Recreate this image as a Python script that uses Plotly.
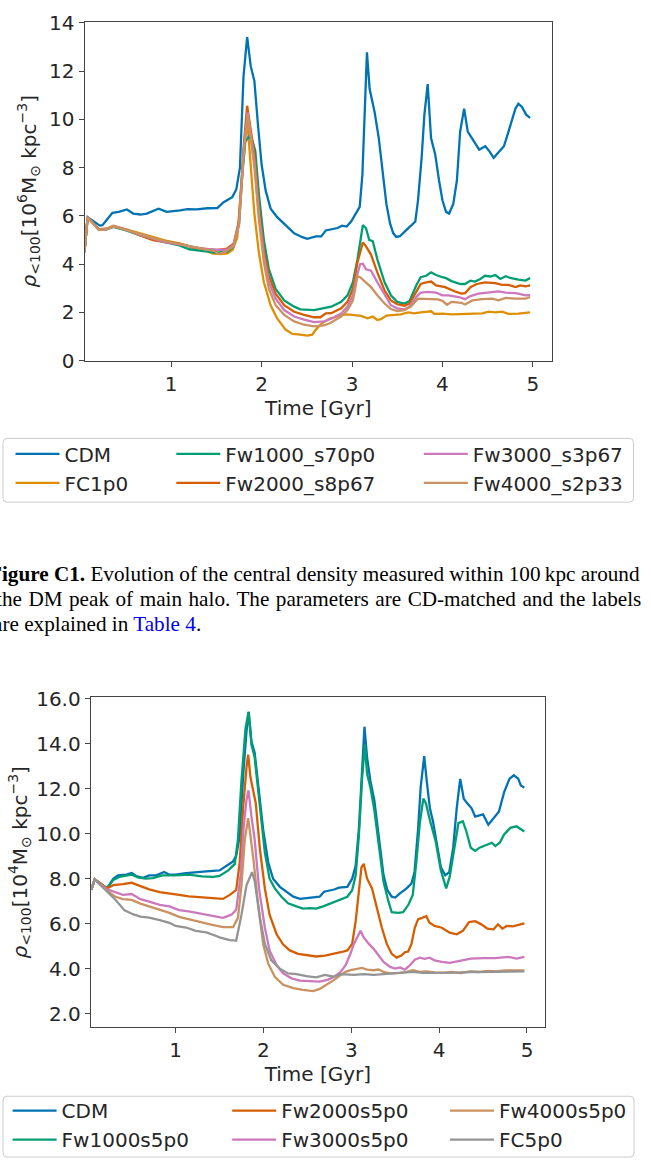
import plotly.graph_objects as go

W, H = 651, 1171

# ---------------- data: upper panel (CD-matched), (time [Gyr], rho [1e6 Msun/kpc^3]) ----------------
top_cdm = [(0.04, 4.5), (0.076, 5.95), (0.21, 5.6), (0.24, 5.62), (0.29, 5.85), (0.35, 6.13), (0.42, 6.17),
           (0.51, 6.27), (0.58, 6.1), (0.66, 6.06), (0.73, 6.1), (0.8, 6.2), (0.86, 6.3), (0.95, 6.17),
           (1.04, 6.2), (1.1, 6.23), (1.18, 6.28), (1.28, 6.27), (1.4, 6.32), (1.51, 6.33), (1.58, 6.57),
           (1.675, 6.78), (1.72, 7.1), (1.76, 8.0), (1.8, 11.8), (1.84, 13.42), (1.88, 12.2), (1.92, 11.6),
           (1.96, 9.76), (2.0, 8.13), (2.045, 7.05), (2.1, 6.3), (2.17, 5.96), (2.265, 5.62), (2.36, 5.28),
           (2.45, 5.12), (2.505, 5.05), (2.6, 5.15), (2.66, 5.15), (2.71, 5.4), (2.76, 5.43), (2.84, 5.5),
           (2.89, 5.6), (2.94, 5.56), (2.99, 5.77), (3.04, 6.1), (3.085, 6.38), (3.115, 7.73), (3.14, 10.45),
           (3.165, 12.78), (3.195, 11.26), (3.25, 10.3), (3.296, 9.23), (3.345, 7.73), (3.38, 6.5), (3.42, 5.7),
           (3.455, 5.29), (3.49, 5.13), (3.53, 5.16), (3.585, 5.36), (3.64, 5.54), (3.7, 5.77), (3.73, 6.65),
           (3.77, 8.41), (3.8, 10.18), (3.837, 11.47), (3.874, 9.23), (3.92, 8.55), (3.963, 7.46), (4.0, 6.65),
           (4.04, 6.17), (4.074, 6.1), (4.12, 6.5), (4.16, 7.46), (4.196, 9.5), (4.24, 10.45), (4.28, 9.5),
           (4.326, 9.23), (4.37, 8.96), (4.407, 8.75), (4.474, 8.89), (4.52, 8.68), (4.567, 8.41), (4.62, 8.62),
           (4.68, 8.89), (4.72, 9.36), (4.77, 10.04), (4.807, 10.45), (4.84, 10.65), (4.88, 10.52),
           (4.926, 10.2), (4.97, 10.07)]

top_fc1p0 = [(0.04, 4.5), (0.076, 5.95), (0.2, 5.45), (0.28, 5.47), (0.36, 5.6), (0.5, 5.45), (0.65, 5.28),
             (0.8, 5.1), (0.94, 4.98), (1.09, 4.86), (1.24, 4.7), (1.38, 4.6), (1.45, 4.45), (1.55, 4.42),
             (1.62, 4.45), (1.68, 4.6), (1.73, 5.1), (1.78, 7.5), (1.82, 9.3), (1.845, 9.8), (1.88, 8.0),
             (1.92, 6.1), (1.97, 4.47), (2.025, 3.25), (2.1, 2.3), (2.17, 1.76), (2.265, 1.29), (2.34, 1.11),
             (2.43, 1.08), (2.505, 1.04), (2.56, 1.08), (2.6, 1.29), (2.67, 1.56), (2.76, 1.76), (2.8, 1.79),
             (2.88, 1.9), (2.95, 1.92), (3.03, 1.9), (3.1, 1.86), (3.17, 1.76), (3.23, 1.83), (3.28, 1.69),
             (3.32, 1.72), (3.38, 1.87), (3.45, 1.9), (3.54, 1.92), (3.62, 2.0), (3.69, 1.96), (3.76, 2.0),
             (3.84, 2.03), (3.875, 2.05), (3.91, 1.94), (4.0, 1.95), (4.1, 1.92), (4.21, 1.93), (4.33, 1.96),
             (4.44, 1.96), (4.51, 2.03), (4.585, 2.0), (4.66, 2.03), (4.73, 1.94), (4.84, 1.95), (4.97, 2.0)]

top_fw1000 = [(0.04, 4.5), (0.076, 5.95), (0.2, 5.45), (0.28, 5.44), (0.36, 5.55), (0.5, 5.4), (0.65, 5.2),
              (0.8, 5.02), (0.94, 4.9), (1.09, 4.78), (1.2, 4.62), (1.3, 4.56), (1.4, 4.52), (1.5, 4.48),
              (1.62, 4.52), (1.69, 4.74), (1.75, 5.69), (1.786, 7.7), (1.82, 9.08), (1.86, 9.3), (1.9, 9.1),
              (1.93, 8.7), (1.97, 6.9), (2.025, 5.0), (2.08, 3.8), (2.155, 2.98), (2.25, 2.5), (2.36, 2.24),
              (2.43, 2.13), (2.58, 2.1), (2.69, 2.17), (2.77, 2.24), (2.88, 2.44), (2.95, 2.71), (3.01, 3.25),
              (3.06, 4.2), (3.1, 5.15), (3.12, 5.62), (3.155, 5.49), (3.19, 5.01), (3.23, 4.95), (3.28, 4.2),
              (3.36, 3.25), (3.43, 2.71), (3.5, 2.44), (3.58, 2.37), (3.635, 2.47), (3.71, 3.12), (3.76, 3.46),
              (3.82, 3.52), (3.875, 3.66), (3.93, 3.55), (4.0, 3.46), (4.04, 3.42), (4.1, 3.3), (4.2, 3.18),
              (4.25, 3.18), (4.31, 3.32), (4.36, 3.28), (4.42, 3.39), (4.47, 3.52), (4.53, 3.49), (4.585, 3.55),
              (4.64, 3.39), (4.7, 3.5), (4.75, 3.43), (4.84, 3.36), (4.92, 3.32), (4.97, 3.43)]

top_fw2000 = [(0.04, 4.5), (0.076, 5.95), (0.2, 5.44), (0.28, 5.46), (0.36, 5.57), (0.5, 5.44), (0.65, 5.2),
              (0.8, 5.0), (0.94, 4.92), (1.09, 4.85), (1.24, 4.7), (1.38, 4.63), (1.5, 4.58), (1.62, 4.65),
              (1.69, 4.85), (1.75, 5.8), (1.8, 8.8), (1.84, 10.57), (1.88, 9.48), (1.92, 8.54), (1.97, 6.37),
              (2.025, 4.6), (2.08, 3.52), (2.155, 2.78), (2.25, 2.3), (2.36, 2.03), (2.47, 1.9), (2.58, 1.8),
              (2.65, 1.8), (2.71, 1.96), (2.77, 1.97), (2.88, 2.17), (2.95, 2.44), (3.01, 2.98), (3.06, 4.07),
              (3.12, 4.9), (3.155, 4.74), (3.21, 4.4), (3.28, 3.66), (3.36, 2.91), (3.43, 2.5), (3.5, 2.34),
              (3.58, 2.28), (3.635, 2.37), (3.71, 2.85), (3.76, 3.18), (3.82, 3.25), (3.875, 3.28), (3.93, 3.12),
              (4.0, 3.08), (4.03, 3.05), (4.14, 2.87), (4.21, 2.78), (4.25, 2.8), (4.31, 3.05), (4.38, 3.18),
              (4.47, 3.25), (4.585, 3.22), (4.66, 3.14), (4.73, 3.14), (4.81, 3.05), (4.86, 3.12), (4.92, 3.08),
              (4.97, 3.12)]

top_fw3000 = [(0.04, 4.5), (0.076, 5.95), (0.2, 5.43), (0.28, 5.45), (0.36, 5.57), (0.5, 5.43), (0.65, 5.22),
              (0.8, 5.06), (0.94, 4.9), (1.09, 4.82), (1.24, 4.72), (1.38, 4.63), (1.5, 4.6), (1.62, 4.6),
              (1.69, 4.8), (1.75, 5.7), (1.8, 8.6), (1.845, 10.3), (1.88, 9.35), (1.92, 8.27), (1.97, 6.1),
              (2.025, 4.34), (2.08, 3.25), (2.155, 2.57), (2.25, 2.1), (2.36, 1.83), (2.47, 1.7), (2.58, 1.6),
              (2.69, 1.63), (2.77, 1.74), (2.88, 1.96), (2.95, 2.24), (3.01, 2.71), (3.045, 3.39), (3.09, 4.0),
              (3.12, 4.02), (3.155, 3.79), (3.21, 3.73), (3.28, 3.25), (3.36, 2.71), (3.43, 2.3), (3.5, 2.17),
              (3.58, 2.13), (3.635, 2.24), (3.71, 2.64), (3.76, 2.82), (3.84, 2.85), (3.93, 2.82), (4.0, 2.71),
              (4.07, 2.71), (4.18, 2.64), (4.25, 2.55), (4.31, 2.68), (4.4, 2.78), (4.51, 2.82), (4.62, 2.87),
              (4.7, 2.82), (4.81, 2.8), (4.92, 2.71), (4.97, 2.72)]

top_fw4000 = [(0.04, 4.5), (0.076, 5.95), (0.2, 5.42), (0.28, 5.45), (0.36, 5.58), (0.5, 5.42), (0.65, 5.22),
              (0.8, 5.08), (0.94, 4.95), (1.09, 4.85), (1.24, 4.72), (1.38, 4.61), (1.48, 4.55), (1.52, 4.42),
              (1.6, 4.52), (1.69, 4.75), (1.75, 5.6), (1.8, 8.5), (1.845, 10.2), (1.88, 9.2), (1.92, 8.0),
              (1.97, 5.83), (2.025, 4.07), (2.08, 2.98), (2.155, 2.3), (2.25, 1.9), (2.36, 1.63), (2.47, 1.49),
              (2.58, 1.42), (2.69, 1.46), (2.76, 1.56), (2.88, 1.83), (2.95, 2.1), (3.01, 2.5), (3.06, 3.5),
              (3.09, 3.46), (3.135, 3.32), (3.21, 3.05), (3.28, 2.71), (3.36, 2.37), (3.43, 2.14), (3.5, 2.06),
              (3.58, 2.1), (3.65, 2.24), (3.73, 2.57), (3.78, 2.57), (3.86, 2.55), (3.95, 2.54), (4.0, 2.48),
              (4.05, 2.32), (4.1, 2.44), (4.21, 2.4), (4.25, 2.33), (4.33, 2.5), (4.44, 2.55), (4.55, 2.57),
              (4.62, 2.5), (4.7, 2.6), (4.81, 2.57), (4.92, 2.57), (4.97, 2.64)]

# ---------------- data: lower panel, (time [Gyr], rho [1e4 Msun/kpc^3]) ----------------
bot_cdm = [(0.04, 7.5), (0.08, 7.97), (0.22, 7.57), (0.29, 8.0), (0.345, 8.15), (0.44, 8.18), (0.5, 8.25),
           (0.55, 8.12), (0.63, 8.04), (0.7, 8.15), (0.78, 8.15), (0.87, 8.3), (0.93, 8.18), (1.0, 8.18),
           (1.12, 8.25), (1.23, 8.3), (1.35, 8.33), (1.5, 8.37), (1.58, 8.58), (1.655, 8.77), (1.69, 9.02),
           (1.73, 9.89), (1.77, 12.65), (1.807, 14.54), (1.833, 15.42), (1.864, 14.1), (1.9, 13.6), (1.94, 12.2),
           (1.997, 10.18), (2.054, 8.73), (2.11, 8.0), (2.187, 7.64), (2.26, 7.42), (2.34, 7.2), (2.415, 7.1),
           (2.49, 7.13), (2.585, 7.16), (2.64, 7.2), (2.69, 7.42), (2.756, 7.47), (2.805, 7.52), (2.86, 7.6),
           (2.955, 7.64), (3.01, 8.0), (3.05, 8.58), (3.086, 10.18), (3.124, 12.94), (3.15, 14.76), (3.18, 13.38),
           (3.217, 12.36), (3.262, 11.49), (3.31, 9.89), (3.367, 8.15), (3.41, 7.5), (3.46, 7.2), (3.5, 7.16),
           (3.554, 7.35), (3.63, 7.57), (3.685, 7.79), (3.72, 8.3), (3.76, 10.18), (3.79, 12.07), (3.83, 13.45),
           (3.86, 12.3), (3.895, 11.13), (3.93, 10.55), (3.98, 9.38), (4.02, 8.51), (4.07, 8.15), (4.115, 8.29),
           (4.16, 9.38), (4.2, 11.13), (4.24, 12.44), (4.28, 11.56), (4.32, 11.35), (4.37, 11.13), (4.41, 10.76),
           (4.46, 10.83), (4.5, 10.86), (4.56, 10.4), (4.62, 10.69), (4.68, 10.98), (4.74, 11.85), (4.8, 12.44),
           (4.85, 12.6), (4.9, 12.45), (4.93, 12.15), (4.97, 12.05)]

bot_fw1000 = [(0.04, 7.5), (0.08, 7.97), (0.22, 7.57), (0.29, 7.94), (0.36, 8.08), (0.5, 8.18), (0.58, 8.05),
              (0.66, 8.0), (0.74, 8.03), (0.85, 8.15), (1.0, 8.15), (1.15, 8.18), (1.3, 8.1), (1.43, 8.08),
              (1.5, 8.12), (1.6, 8.37), (1.674, 8.66), (1.71, 9.75), (1.75, 12.36), (1.796, 14.69), (1.83, 15.42),
              (1.864, 13.96), (1.9, 13.4), (1.95, 11.5), (2.016, 9.17), (2.07, 8.0), (2.13, 7.57), (2.205, 7.2),
              (2.28, 6.91), (2.376, 6.77), (2.45, 6.67), (2.53, 6.69), (2.6, 6.67), (2.68, 6.77), (2.77, 6.91),
              (2.88, 7.06), (2.955, 7.2), (3.01, 7.49), (3.05, 8.15), (3.086, 9.89), (3.124, 12.5), (3.154, 13.96),
              (3.18, 12.65), (3.217, 12.07), (3.262, 11.06), (3.31, 9.6), (3.367, 7.86), (3.423, 6.99), (3.46, 6.51),
              (3.535, 6.48), (3.59, 6.51), (3.65, 6.84), (3.7, 7.28), (3.74, 8.73), (3.78, 10.47), (3.82, 11.56),
              (3.85, 11.35), (3.895, 10.6), (3.96, 9.67), (4.02, 8.37), (4.08, 7.57), (4.12, 8.08), (4.17, 9.38),
              (4.22, 10.47), (4.27, 10.55), (4.31, 10.1), (4.36, 9.38), (4.41, 9.24), (4.46, 9.38), (4.5, 9.45),
              (4.55, 9.53), (4.6, 9.6), (4.64, 9.45), (4.69, 9.6), (4.74, 9.97), (4.81, 10.26), (4.88, 10.33),
              (4.93, 10.18), (4.97, 10.1)]

bot_fw2000 = [(0.04, 7.5), (0.08, 7.97), (0.22, 7.57), (0.29, 7.71), (0.4, 7.76), (0.5, 7.82), (0.6, 7.67),
              (0.7, 7.53), (0.82, 7.4), (0.93, 7.35), (1.04, 7.28), (1.15, 7.21), (1.3, 7.18), (1.43, 7.13),
              (1.54, 7.1), (1.617, 7.28), (1.69, 7.5), (1.73, 8.73), (1.77, 11.2), (1.807, 12.94), (1.826, 13.52),
              (1.853, 12.5), (1.883, 11.93), (1.913, 11.35), (1.96, 9.31), (2.016, 7.57), (2.07, 6.4), (2.15, 5.53),
              (2.225, 5.07), (2.3, 4.81), (2.395, 4.66), (2.49, 4.59), (2.6, 4.54), (2.7, 4.58), (2.805, 4.66),
              (2.88, 4.73), (2.955, 4.81), (3.01, 5.1), (3.05, 6.11), (3.086, 7.57), (3.116, 8.51), (3.142, 8.66),
              (3.18, 8.0), (3.236, 7.57), (3.292, 6.7), (3.348, 5.82), (3.404, 5.1), (3.46, 4.66), (3.517, 4.49),
              (3.573, 4.59), (3.61, 4.73), (3.648, 4.76), (3.685, 5.1), (3.723, 5.82), (3.76, 6.19), (3.816, 6.26),
              (3.854, 6.33), (3.89, 6.04), (3.948, 5.9), (4.03, 5.82), (4.12, 5.6), (4.2, 5.53), (4.27, 5.68),
              (4.34, 6.07), (4.41, 6.11), (4.48, 5.97), (4.55, 5.78), (4.62, 5.75), (4.67, 5.97), (4.72, 5.78),
              (4.77, 5.9), (4.84, 5.88), (4.91, 5.95), (4.97, 6.01)]

bot_fw3000 = [(0.04, 7.5), (0.08, 7.97), (0.22, 7.53), (0.31, 7.42), (0.4, 7.28), (0.5, 7.32), (0.6, 7.09),
              (0.7, 6.98), (0.82, 6.84), (0.93, 6.77), (1.04, 6.6), (1.15, 6.55), (1.3, 6.45), (1.43, 6.33),
              (1.54, 6.26), (1.636, 6.4), (1.69, 6.62), (1.74, 8.15), (1.776, 10.33), (1.807, 11.5), (1.83, 11.93),
              (1.864, 10.76), (1.9, 9.75), (1.95, 7.57), (2.016, 5.82), (2.07, 4.81), (2.15, 4.15), (2.225, 3.79),
              (2.32, 3.57), (2.415, 3.47), (2.53, 3.45), (2.64, 3.42), (2.73, 3.5), (2.805, 3.64), (2.88, 3.86),
              (2.936, 4.15), (2.99, 4.66), (3.03, 5.1), (3.067, 5.39), (3.105, 5.68), (3.142, 5.39), (3.2, 5.1),
              (3.255, 4.88), (3.31, 4.59), (3.367, 4.3), (3.442, 4.08), (3.5, 4.0), (3.554, 4.05), (3.61, 3.96),
              (3.667, 4.15), (3.723, 4.4), (3.78, 4.49), (3.835, 4.44), (3.89, 4.49), (3.948, 4.37), (4.03, 4.3),
              (4.12, 4.26), (4.22, 4.33), (4.36, 4.45), (4.5, 4.47), (4.64, 4.47), (4.79, 4.52), (4.88, 4.45),
              (4.97, 4.52)]

bot_fw4000 = [(0.04, 7.5), (0.08, 7.97), (0.22, 7.47), (0.31, 7.21), (0.4, 7.09), (0.5, 7.06), (0.6, 6.89),
              (0.7, 6.77), (0.82, 6.6), (0.93, 6.48), (1.04, 6.3), (1.15, 6.19), (1.3, 6.04), (1.43, 5.94),
              (1.54, 5.85), (1.655, 5.85), (1.71, 6.26), (1.75, 7.71), (1.788, 9.75), (1.826, 10.69), (1.853, 9.89),
              (1.89, 8.73), (1.94, 6.84), (1.997, 5.1), (2.054, 4.23), (2.13, 3.64), (2.225, 3.28), (2.34, 3.13),
              (2.45, 3.06), (2.566, 3.0), (2.64, 3.1), (2.73, 3.31), (2.805, 3.5), (2.88, 3.72), (2.936, 3.86),
              (2.99, 3.93), (3.067, 4.0), (3.124, 4.03), (3.18, 3.96), (3.255, 3.93), (3.31, 3.96), (3.367, 3.86),
              (3.442, 3.79), (3.554, 3.81), (3.63, 3.86), (3.7, 3.93), (3.78, 3.86), (3.854, 3.88), (3.948, 3.83),
              (4.05, 3.82), (4.15, 3.85), (4.25, 3.8), (4.35, 3.88), (4.45, 3.85), (4.55, 3.9), (4.65, 3.88),
              (4.75, 3.92), (4.85, 3.93), (4.97, 3.92)]

bot_fc5p0 = [(0.04, 7.5), (0.08, 7.97), (0.22, 7.43), (0.32, 7.04), (0.42, 6.59), (0.52, 6.41), (0.6, 6.31),
             (0.7, 6.27), (0.82, 6.16), (0.93, 6.04), (1.0, 5.9), (1.12, 5.83), (1.23, 5.68), (1.35, 5.61),
             (1.47, 5.44), (1.5, 5.39), (1.617, 5.27), (1.69, 5.25), (1.75, 6.4), (1.807, 7.71), (1.87, 8.29),
             (1.9, 7.9), (1.96, 6.26), (2.016, 5.1), (2.09, 4.37), (2.187, 4.0), (2.28, 3.79), (2.376, 3.76),
             (2.49, 3.67), (2.6, 3.61), (2.7, 3.72), (2.8, 3.64), (2.88, 3.76), (2.955, 3.74), (3.03, 3.72),
             (3.142, 3.76), (3.255, 3.72), (3.367, 3.76), (3.48, 3.79), (3.59, 3.81), (3.7, 3.86), (3.816, 3.81),
             (3.93, 3.81), (4.05, 3.83), (4.2, 3.82), (4.35, 3.85), (4.5, 3.84), (4.65, 3.86), (4.8, 3.87),
             (4.97, 3.88)]

top_names = ["CDM", "FC1p0", "Fw1000_s70p0", "Fw2000_s8p67", "Fw3000_s3p67", "Fw4000_s2p33"]
bot_names = ["CDM", "Fw1000s5p0", "Fw2000s5p0", "Fw3000s5p0", "Fw4000s5p0", "FC5p0"]

top_ticks_y = [0, 2, 4, 6, 8, 10, 12, 14]
bot_ticks_y = [2, 4, 6, 8, 10, 12, 14, 16]
ticks_x = [1, 2, 3, 4, 5]

# seaborn "colorblind" palette
C = {"blue": "#0173B2", "orange": "#DE8F05", "green": "#029E73", "red": "#D55E00",
     "pink": "#CC78BC", "brown": "#CA9161", "gray": "#949494"}

top_series = [(top_names[0], top_cdm, C["blue"], "legend"),
              (top_names[1], top_fc1p0, C["orange"], "legend"),
              (top_names[2], top_fw1000, C["green"], "legend2"),
              (top_names[3], top_fw2000, C["red"], "legend2"),
              (top_names[4], top_fw3000, C["pink"], "legend3"),
              (top_names[5], top_fw4000, C["brown"], "legend3")]
bot_series = [(bot_names[0], bot_cdm, C["blue"], "legend4"),
              (bot_names[1], bot_fw1000, C["green"], "legend4"),
              (bot_names[2], bot_fw2000, C["red"], "legend5"),
              (bot_names[3], bot_fw3000, C["pink"], "legend5"),
              (bot_names[4], bot_fw4000, C["brown"], "legend6"),
              (bot_names[5], bot_fc5p0, C["gray"], "legend6")]

fig = go.Figure()
LW = 2.3
for name, pts, col, lg in top_series:
    fig.add_trace(go.Scatter(x=[p[0] for p in pts], y=[p[1] for p in pts], mode="lines", name=name,
                             line=dict(color=col, width=LW), xaxis="x", yaxis="y", legend=lg))
for name, pts, col, lg in bot_series:
    fig.add_trace(go.Scatter(x=[p[0] for p in pts], y=[p[1] for p in pts], mode="lines", name=name,
                             line=dict(color=col, width=LW), xaxis="x2", yaxis="y2", legend=lg))

TXT = "#262626"
SPINE = "#444444"
FONT = "DejaVu Sans"


def fx(px):
    return px / W


def fy(py):
    return 1 - py / H


ax_common = dict(showline=True, linecolor=SPINE, linewidth=1.2, mirror=True, ticks="outside", ticklen=5,
                 tickwidth=1.2, tickcolor=SPINE, showgrid=False, zeroline=False,
                 tickfont=dict(family=FONT, size=20, color=TXT))

title_top = "<i>ρ</i><sub>&lt;100</sub>[10<sup>6</sup>M<sub>⊙</sub> kpc<sup>−3</sup>]"
title_bot = "<i>ρ</i><sub>&lt;100</sub>[10<sup>4</sup>M<sub>⊙</sub> kpc<sup>−3</sup>]"

fig.update_layout(
    width=W, height=H, margin=dict(l=0, r=0, t=0, b=0),
    paper_bgcolor="white", plot_bgcolor="white",
    font=dict(family=FONT, size=20, color=TXT),
    xaxis=dict(domain=[fx(84.6), fx(552)], anchor="y", range=[0.042, 5.212], tickvals=ticks_x,
               title=dict(text="Time [Gyr]", standoff=4, font=dict(size=20)), **ax_common),
    yaxis=dict(domain=[fy(356.7), fy(11)], anchor="x", range=[0, 14.05], tickvals=top_ticks_y,
               title=dict(text=title_top, standoff=7, font=dict(size=20)), **ax_common),
    xaxis2=dict(domain=[fx(90.8), fx(545)], anchor="y2", range=[0.035, 5.205], tickvals=ticks_x,
                title=dict(text="Time [Gyr]", standoff=4, font=dict(size=20)), **ax_common),
    yaxis2=dict(domain=[fy(1036.7), fy(700)], anchor="x2", range=[1.39, 16.07], tickvals=bot_ticks_y,
                tickformat=".1f", title=dict(text=title_bot, standoff=3, font=dict(size=20)), **ax_common),
    showlegend=True,
)

# legends: three columns per panel (matplotlib-style ncol=3)
IW = 44
leg_common = dict(orientation="v", xanchor="left", yanchor="middle", bgcolor="rgba(0,0,0,0)",
                  borderwidth=0, font=dict(family=FONT, size=20, color=TXT), itemwidth=IW,
                  tracegroupgap=0)
top_text_x = [67.5, 228.3, 475.8]
bot_text_x = [64.6, 284.2, 502.0]
top_mid, bot_mid = 466.5, 1136.5
for i, key in enumerate(["legend", "legend2", "legend3"]):
    fig.update_layout({key: dict(x=fx(top_text_x[i] - IW - 13), y=fy(top_mid), **leg_common)})
for i, key in enumerate(["legend4", "legend5", "legend6"]):
    fig.update_layout({key: dict(x=fx(bot_text_x[i] - IW - 13), y=fy(bot_mid), **leg_common)})


def rounded_box(x0, y0, x1, y1, r=4):
    X0, X1 = fx(x0), fx(x1)
    Y0, Y1 = fy(y0), fy(y1)
    rx, ry = r / W, r / H
    return (f"M{X0 + rx},{Y0} L{X1 - rx},{Y0} Q{X1},{Y0} {X1},{Y0 - ry} "
            f"L{X1},{Y1 + ry} Q{X1},{Y1} {X1 - rx},{Y1} L{X0 + rx},{Y1} Q{X0},{Y1} {X0},{Y1 + ry} "
            f"L{X0},{Y0 - ry} Q{X0},{Y0} {X0 + rx},{Y0} Z")


for box in [(3, 436, 633.5, 501), (3, 1107, 634, 1169)]:
    fig.add_shape(type="path", path=rounded_box(*box), xref="paper", yref="paper",
                  line=dict(color="#cccccc", width=1), fillcolor="white", layer="below")

# caption of the upper figure (justified lines, cropped at the left edge as in the page)
cap_font = dict(family="Liberation Serif", size=21.2, color="black")
caption = [
    ("<b>Figure C1.</b> Evolution of the central density measured within 100\u2009kpc around", -13, 574),
    ("<span style='word-spacing:1.2px'>the DM peak of main halo. The parameters are CD-matched and the labels</span>",
     -6, 600),
    ("are explained in <span style='color:#0000ee'>Table 4</span>.", -9.5, 625.5),
]
for txt, x0, yc in caption:
    fig.add_annotation(text=txt, x=fx(x0), y=fy(yc), xref="paper", yref="paper", xanchor="left",
                       yanchor="middle", showarrow=False, font=cap_font, align="left")

# no mode bar, and no default 8px body margin around the figure
fig.write_html("out.html", config={"displayModeBar": False},
               post_script="document.body.style.margin='0';document.body.style.overflow='hidden';")
